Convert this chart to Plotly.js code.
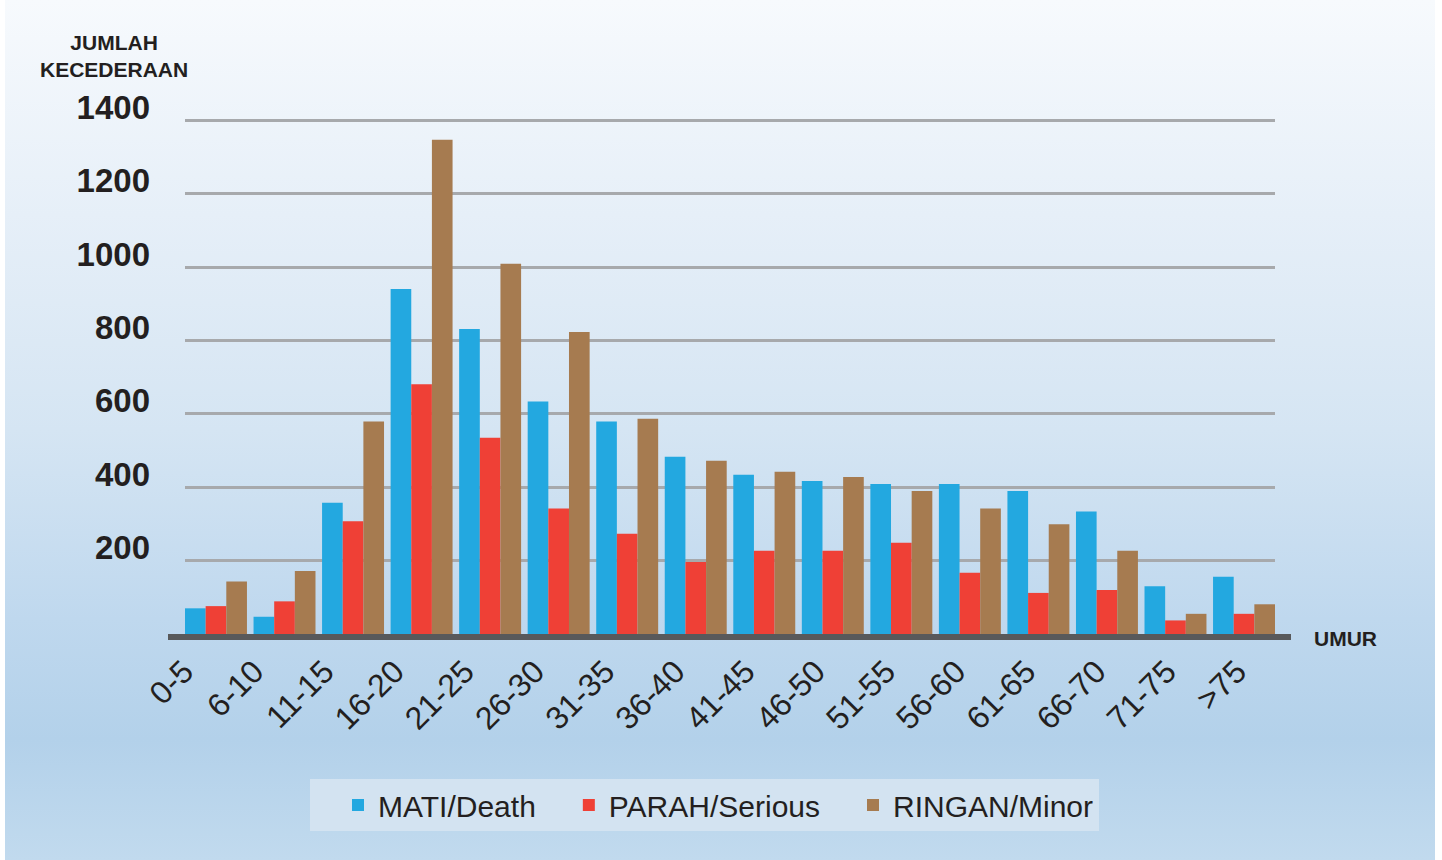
<!DOCTYPE html>
<html>
<head>
<meta charset="utf-8">
<script src="https://cdn.plot.ly/plotly-3.0.1.min.js"></script>
<style>
  html, body { margin:0; padding:0; background:#ffffff; }
  #bg { position:absolute; left:5px; top:0; width:1430px; height:860px;
        background: linear-gradient(to bottom, #f7fafd 0%, #e6eff8 25%, #d5e5f3 50%, #bfd8ee 72%, #b3d1ea 86%, #c1daee 100%); }
  #chart { position:absolute; left:0; top:0; width:1442px; height:860px; }
</style>
</head>
<body>
<div id="bg"></div>
<div id="chart"></div>
<script>
const categories = ['0-5','6-10','11-15','16-20','21-25','26-30','31-35','36-40','41-45','46-50','51-55','56-60','61-65','66-70','71-75','>75'];
const mati   = [70, 47, 358, 940, 831, 634, 579, 483, 434, 417, 409, 409, 390, 334, 130, 156];
const parah  = [76, 89, 307, 681, 535, 342, 273, 196, 227, 227, 249, 167, 112, 120, 37, 55];
const ringan = [143, 172, 579, 1347, 1009, 823, 587, 472, 442, 428, 390, 342, 299, 227, 55, 81];
const yTicks = [200, 400, 600, 800, 1000, 1200, 1400];
const seriesNames = ['MATI/Death', 'PARAH/Serious', 'RINGAN/Minor'];

const colors = ['#23a8e0', '#ef4036', '#a67b50'];
const W = 1442, H = 860;
const mL = 168, mR = 151, mT = 113, mB = 226;
const pw = W - mL - mR, ph = H - mT - mB;
const catIndex = categories.map((c, i) => i);

const traces = [mati, parah, ringan].map((vals, k) => ({
  type: 'bar', x: categories, y: vals, name: seriesNames[k],
  marker: { color: colors[k], line: { width: 0 } },
  xaxis: 'x', yaxis: 'y', hoverinfo: 'x+y+name'
}));
// carrier for the category-label axis (draws nothing)
traces.push({
  type: 'scatter', mode: 'none', x: catIndex, y: catIndex.map(() => null),
  xaxis: 'x2', yaxis: 'y2', showlegend: false, hoverinfo: 'skip'
});

const layout = {
  width: W, height: H,
  margin: { l: mL, r: mR, t: mT, b: mB, pad: 0 },
  paper_bgcolor: 'rgba(0,0,0,0)', plot_bgcolor: 'rgba(0,0,0,0)',
  barmode: 'group', bargap: 0.096, bargroupgap: 0,
  font: { family: 'Liberation Sans, Arial, sans-serif', color: '#231f20' },
  xaxis: {
    type: 'category', domain: [(185 - mL) / pw, (1275 - mL) / pw],
    range: [-0.452, categories.length - 1 + 0.452],
    showticklabels: false, showgrid: false, zeroline: false, showline: false, ticks: ''
  },
  yaxis: {
    range: [0, 1420], tickmode: 'array', tickvals: yTicks,
    showgrid: true, gridcolor: '#a7a9ac', gridwidth: 3,
    zeroline: false, showline: false, ticks: '',
    ticklabelstandoff: 34, ticklabelshift: -13,
    tickfont: { family: 'Liberation Sans, Arial, sans-serif', size: 33, weight: 'bold', color: '#231f20' }
  },
  xaxis2: {
    domain: [0, 1], anchor: 'y2', range: [-0.5, categories.length - 0.5],
    tickmode: 'array', tickvals: catIndex, ticktext: categories,
    tickangle: -45, showgrid: false, zeroline: false,
    showline: true, linecolor: '#58595b', linewidth: 6, ticks: '',
    ticklabelshift: -19,
    tickfont: { family: 'Liberation Sans, Arial, sans-serif', size: 32, color: '#231f20' }
  },
  yaxis2: {
    domain: [0, 1], anchor: 'x2', range: [0, 1],
    showgrid: false, zeroline: false, showline: false, showticklabels: false, ticks: ''
  },
  showlegend: true,
  legend: {
    orientation: 'h', x: (310 - mL) / pw, xanchor: 'left',
    y: (mT + ph - 779) / ph, yanchor: 'top',
    bgcolor: '#d3e3f1', borderwidth: 0, indentation: 28,
    font: { family: 'Liberation Sans, Arial, sans-serif', size: 30, color: '#231f20' }
  },
  annotations: [
    { text: '<b>JUMLAH<br>KECEDERAAN</b>', xref: 'paper', yref: 'paper',
      x: (114 - mL) / pw, y: (mT + ph - 56) / ph, xanchor: 'center', yanchor: 'middle',
      showarrow: false, align: 'center',
      font: { family: 'Liberation Sans, Arial, sans-serif', size: 21, color: '#231f20' } },
    { text: '<b>UMUR</b>', xref: 'paper', yref: 'paper',
      x: (1312 - mL) / pw, y: (mT + ph - 638) / ph, xanchor: 'left', yanchor: 'middle',
      showarrow: false,
      font: { family: 'Liberation Sans, Arial, sans-serif', size: 21, color: '#231f20' } }
  ]
};

Plotly.newPlot('chart', traces, layout, { displayModeBar: false, staticPlot: true });
</script>
</body>
</html>
